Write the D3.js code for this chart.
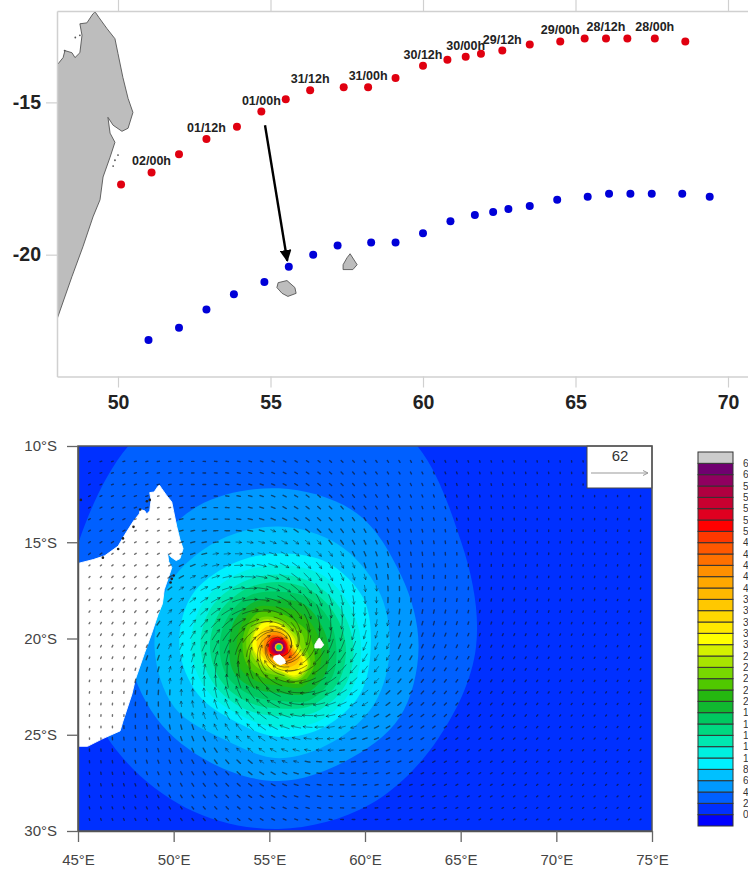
<!DOCTYPE html>
<html>
<head>
<meta charset="utf-8">
<style>
  html, body { margin: 0; padding: 0; background: #fff; }
  svg { display: block; font-family: "Liberation Sans", Arial, sans-serif; }
  .top-axis path { stroke: #d0d0d0; stroke-width: 1.5; }
  .top-axis line { stroke: #d0d0d0; stroke-width: 1.2; }
  .top-axis text { font-size: 19.5px; font-weight: bold; fill: #222; }
  .map-axis path { stroke: #555; stroke-width: 1.5; }
  .map-axis line { stroke: #666; stroke-width: 1.3; }
  .map-axis text { font-size: 15px; fill: #444; }
</style>
</head>
<body>
<div id="chart-area"></div>
<script src="https://cdn.jsdelivr.net/npm/d3@7"></script>
<script>
// Track positions (lon, lat per 6h step, newest first)
const trackALon = [50.1, 51.1, 52.0, 52.9, 53.9, 54.7, 55.5, 56.3, 57.4, 58.2, 59.1, 60.0, 60.8, 61.4, 61.9, 62.6, 63.5, 64.5, 65.3, 66.0, 66.7, 67.6, 68.6];
const trackALat = [-17.7, -17.3, -16.7, -16.2, -15.8, -15.3, -14.9, -14.6, -14.5, -14.5, -14.2, -13.8, -13.6, -13.5, -13.4, -13.3, -13.1, -13.0, -12.9, -12.9, -12.9, -12.9, -13.0];
const trackBLon = [51.0, 52.0, 52.9, 53.8, 54.8, 55.6, 56.4, 57.2, 58.3, 59.1, 60.0, 60.9, 61.7, 62.3, 62.8, 63.5, 64.4, 65.4, 66.1, 66.8, 67.5, 68.5, 69.4];
const trackBLat = [-22.8, -22.4, -21.8, -21.3, -20.9, -20.4, -20.0, -19.7, -19.6, -19.6, -19.3, -18.9, -18.7, -18.6, -18.5, -18.4, -18.2, -18.1, -18.0, -18.0, -18.0, -18.0, -18.1];
// One label every second point of track A, starting at the second point
const trackLabels = ["02/00h", "01/12h", "01/00h", "31/12h", "31/00h", "30/12h", "30/00h", "29/12h", "29/00h", "28/12h", "28/00h"];
const arrowLon = [54.82, 55.55];
const arrowLat = [-15.75, -20.2];

// Coastlines
const coastLon = [49.25, 49.38, 49.64, 49.9, 50.0, 50.16, 50.33, 50.49, 50.33, 50.13, 49.84, 49.67, 49.74, 49.9, 49.74, 49.51, 49.41, 49.18, 48.85, 48.49, 48.0, 47.82, 47.35, 47.2, 46.3, 45.5, 44, 44, 45, 45.8, 46.4, 47.1, 47.45, 47.9, 48.2, 48.26, 48.49, 48.59, 48.75, 48.82, 48.75, 48.98, 49.18];
const coastLat = [-12.03, -12.22, -12.58, -12.91, -13.4, -14.18, -14.87, -15.33, -15.85, -15.95, -15.75, -15.49, -16.01, -16.31, -16.8, -17.45, -18.2, -18.76, -19.74, -20.72, -22.12, -22.88, -24.3, -24.8, -25.2, -25.6, -25.6, -16.1, -16.1, -15.9, -15.7, -15.2, -14.6, -13.9, -13.53, -13.3, -13.37, -13.53, -13.37, -12.8, -12.42, -12.39, -12.09];
const reunionLon = [55.25, 55.54, 55.8, 55.84, 55.57, 55.38, 55.21];
const reunionLat = [-20.92, -20.85, -21.08, -21.27, -21.37, -21.27, -21.08];
const mauritiusLon = [57.61, 57.84, 57.7, 57.38, 57.38, 57.51];
const mauritiusLat = [-19.97, -20.33, -20.49, -20.49, -20.33, -20.1];
const isletLon = [46.3, 47.1, 47.35, 47.9, 48.25, 48.6, 48.75, 45.15, 50.0, 49.9, 49.84];
const isletLat = [-15.8, -15.35, -14.8, -14.2, -13.3, -12.87, -12.8, -12.8, -16.73, -16.9, -17.09];

// Colour bar: one colour per 2-unit class, bottom to top, last one is the overflow class
const barColors = ["#0000ff", "#0030ff", "#0060ff", "#0098ff", "#00c0ff", "#00f0ff", "#00f0e0", "#00e8b0", "#00d880", "#00c860", "#10b830", "#25b810", "#50c800", "#78d800", "#a8e400", "#d4f000", "#ffff00", "#ffe800", "#ffd800", "#ffc800", "#ffb800", "#ffa800", "#ff9000", "#ff7000", "#ff5800", "#ff3800", "#ff0000", "#e00020", "#c80030", "#b00040", "#900060", "#700070", "#cccccc"];
const barLabels = d3.range(0, 64, 2);

// Wind speed contours: lower level of each band and its radius (deg) from the eye,
// read every 30 degrees clockwise from north
const eyeLon = 55.5;
const eyeLat = -20.45;
const bandLevels = [4, 6, 8, 10, 12, 14, 16, 18, 20, 22, 24, 26, 28, 30, 32, 36, 40, 44, 48, 52, 56, 60];
const bandRadii = [
  [13.1, 13.0, 11.0, 10.3, 9.6, 9.5, 9.5, 9.7, 10.1, 10.9, 11.9, 13.4],
  [8.3, 8.1, 7.4, 7.3, 7.3, 6.9, 7.0, 7.0, 7.4, 7.9, 8.3, 8.5],
  [6.3, 6.2, 6.0, 5.8, 5.8, 5.7, 5.8, 5.6, 6.3, 6.5, 6.6, 6.4],
  [4.9, 5.1, 5.1, 4.8, 4.9, 4.8, 4.7, 4.5, 4.9, 5.2, 5.3, 5.0],
  [4.3, 4.4, 4.3, 4.3, 4.4, 4.4, 4.2, 4.1, 4.4, 4.6, 4.6, 4.4],
  [3.8, 3.8, 3.8, 3.9, 4.0, 3.9, 3.6, 3.7, 3.9, 4.1, 4.1, 3.9],
  [3.4, 3.4, 3.4, 3.5, 3.6, 3.5, 3.2, 3.3, 3.5, 3.6, 3.6, 3.5],
  [2.9, 3.0, 3.0, 3.0, 3.2, 3.2, 2.8, 2.9, 3.1, 3.1, 3.1, 3.1],
  [2.5, 2.6, 2.5, 2.6, 2.8, 2.8, 2.4, 2.5, 2.7, 2.6, 2.7, 2.7],
  [2.1, 2.1, 2.1, 2.2, 2.4, 2.4, 2.0, 2.1, 2.3, 2.2, 2.3, 2.4],
  [1.8, 1.6, 1.7, 1.8, 2.1, 2.2, 1.7, 1.8, 1.9, 1.9, 2.0, 2.1],
  [1.5, 1.3, 1.4, 1.4, 1.9, 2.0, 1.5, 1.5, 1.6, 1.7, 1.8, 1.8],
  [1.35, 1.1, 1.1, 1.15, 1.8, 1.9, 1.35, 1.3, 1.4, 1.5, 1.6, 1.65],
  [1.25, 1.0, 0.95, 1.0, 1.75, 1.8, 1.25, 1.2, 1.25, 1.4, 1.5, 1.55],
  [1.2, 0.9, 0.85, 0.9, 1.7, 1.7, 1.2, 1.15, 1.15, 1.35, 1.45, 1.5],
  [1.05, 0.8, 0.75, 0.8, 1.45, 1.45, 1.05, 1.0, 1.0, 1.15, 1.25, 1.25],
  [0.9, 0.7, 0.65, 0.7, 1.25, 1.2, 0.85, 0.85, 0.85, 0.95, 1.05, 1.05],
  [0.75, 0.6, 0.6, 0.6, 1.05, 1.0, 0.7, 0.7, 0.75, 0.8, 0.85, 0.85],
  [0.6, 0.55, 0.52, 0.52, 0.8, 0.75, 0.58, 0.6, 0.65, 0.65, 0.7, 0.7],
  [0.5, 0.47, 0.45, 0.45, 0.55, 0.52, 0.45, 0.5, 0.55, 0.55, 0.55, 0.55],
  [0.42, 0.4, 0.38, 0.38, 0.42, 0.42, 0.38, 0.42, 0.45, 0.45, 0.45, 0.45],
  [0.34, 0.33, 0.32, 0.32, 0.33, 0.33, 0.33, 0.35, 0.35, 0.36, 0.36, 0.35]
];
// The calm eye inside the purple ring
const eyeLevels = [40, 16];
const eyeRadii = [0.22, 0.14];

// Wind vectors: drawn speed estimated from the arrow lengths as a function of distance to the eye.
// Direction comes from the rotation around the eye, the single arrows can't be read.
const windRadius = [0.3, 0.6, 1, 1.5, 2, 2.5, 3, 3.5, 4, 5, 6, 7.5, 10.5, 15, 25];
const windSpeed = [50, 42, 30, 24, 20, 17, 15, 13, 11, 8, 5.5, 4, 2.5, 1.6, 1];
const legendSpeed = 62;

const xTopTicks = [50, 55, 60, 65, 70];
const yTopTicks = [-15, -20];
const xMapTicks = [45, 50, 55, 60, 65, 70, 75];
const yMapTicks = [-10, -15, -20, -25, -30];

// Set up SVG
const svg = d3.select("#chart-area").append("svg")
    .attr("width", 748)
    .attr("height", 870);

// ---- Upper panel ----
const xTop = d3.scaleLinear().domain([48, 71]).range([57, 758.5]);
const yTop = d3.scaleLinear().domain([-12, -24]).range([11, 376.5]);

const defs = svg.append("defs");
defs.append("clipPath").attr("id", "clip-top").append("rect")
    .attr("x", 57).attr("y", 11).attr("width", 700).attr("height", 366);
defs.append("clipPath").attr("id", "clip-map").append("rect")
    .attr("x", 78).attr("y", 446).attr("width", 574).attr("height", 385);
defs.append("marker").attr("id", "track-head")
    .attr("viewBox", "0 0 10 10").attr("refX", 9).attr("refY", 5)
    .attr("markerWidth", 5).attr("markerHeight", 5).attr("orient", "auto")
    .append("path").attr("d", "M0,0L10,5L0,10Z").attr("fill", "#000");

function zipPoints(lons, lats) {
    return lons.map((lon, i) => [lon, lats[i]]);
}

function drawShapes(group, shapes, x, y, fill, stroke) {
    const line = d3.line().x(d => x(d[0])).y(d => y(d[1]));
    shapes.forEach(shape => {
        group.append("path")
            .attr("d", line(zipPoints(shape[0], shape[1])) + "Z")
            .attr("fill", fill)
            .attr("stroke", stroke)
            .attr("stroke-width", 0.9)
            .attr("stroke-linejoin", "round");
    });
}

const mainland = [[coastLon, coastLat]];
const islands = [[reunionLon, reunionLat], [mauritiusLon, mauritiusLat]];

const topMap = svg.append("g").attr("clip-path", "url(#clip-top)");
drawShapes(topMap, mainland.concat(islands), xTop, yTop, "#bdbdbd", "#555");
topMap.selectAll(".islet")
    .data(zipPoints(isletLon, isletLat))
    .enter().append("circle")
    .attr("cx", d => xTop(d[0]))
    .attr("cy", d => yTop(d[1]))
    .attr("r", 0.9)
    .attr("fill", "#555");

// Axes of the upper panel (no right side, it runs out of the picture)
svg.append("g").attr("class", "top-axis")
    .attr("transform", "translate(0,376.5)")
    .call(d3.axisBottom(xTop).tickValues(xTopTicks).tickSize(11).tickPadding(8).tickSizeOuter(0));
svg.append("g").attr("class", "top-axis")
    .attr("transform", "translate(0,11)")
    .call(d3.axisTop(xTop).tickValues(xTopTicks).tickSize(11).tickFormat("").tickSizeOuter(0));
svg.append("g").attr("class", "top-axis")
    .attr("transform", "translate(57,0)")
    .call(d3.axisLeft(yTop).tickValues(yTopTicks).tickSize(11).tickPadding(3).tickFormat(d => String(d)).tickSizeOuter(0))
    .selectAll("text").attr("dx", -2);

// Tracks
topMap.selectAll(".track-a")
    .data(zipPoints(trackALon, trackALat))
    .enter().append("circle")
    .attr("cx", d => xTop(d[0]))
    .attr("cy", d => yTop(d[1]))
    .attr("r", 4)
    .attr("fill", "#e00010");
topMap.selectAll(".track-b")
    .data(zipPoints(trackBLon, trackBLat))
    .enter().append("circle")
    .attr("cx", d => xTop(d[0]))
    .attr("cy", d => yTop(d[1]))
    .attr("r", 4)
    .attr("fill", "#0000d8");

topMap.selectAll(".track-label")
    .data(trackLabels)
    .enter().append("text")
    .attr("x", (d, i) => xTop(trackALon[i * 2 + 1]))
    .attr("y", (d, i) => yTop(trackALat[i * 2 + 1]) - 7)
    .attr("text-anchor", "middle")
    .attr("font-size", 12.5)
    .attr("font-weight", "bold")
    .attr("fill", "#222")
    .text(d => d);

topMap.append("line")
    .attr("x1", xTop(arrowLon[0])).attr("y1", yTop(arrowLat[0]))
    .attr("x2", xTop(arrowLon[1])).attr("y2", yTop(arrowLat[1]))
    .attr("stroke", "#000")
    .attr("stroke-width", 2.4)
    .attr("marker-end", "url(#track-head)");

// ---- Lower panel ----
const xMap = d3.scaleLinear().domain([45, 75]).range([78, 652]);
const yMap = d3.scaleLinear().domain([-10, -30]).range([446, 831]);
const lengthScale = d3.scaleLinear().domain([0, 62]).range([0, 57]);
const speedScale = d3.scaleLinear().domain(windRadius).range(windSpeed).clamp(true);

function levelColor(level) {
    return barColors[level / 2];
}

const map = svg.append("g").attr("clip-path", "url(#clip-map)");
map.append("rect")
    .attr("x", 78).attr("y", 446).attr("width", 574).attr("height", 385)
    .attr("fill", levelColor(2));

const bandLine = d3.lineRadial()
    .angle((d, i) => i * Math.PI / 6)
    .radius(d => xMap(45 + d) - xMap(45))
    .curve(d3.curveCardinalClosed);

map.selectAll(".band")
    .data(bandRadii)
    .enter().append("path")
    .attr("transform", "translate(" + xMap(eyeLon) + "," + yMap(eyeLat) + ")")
    .attr("d", bandLine)
    .attr("fill", (d, i) => levelColor(bandLevels[i]));

map.selectAll(".eye")
    .data(eyeRadii)
    .enter().append("circle")
    .attr("cx", xMap(eyeLon))
    .attr("cy", yMap(eyeLat))
    .attr("r", d => xMap(45 + d) - xMap(45))
    .attr("fill", (d, i) => levelColor(eyeLevels[i]));

drawShapes(map, mainland, xMap, yMap, "#fff", "#fff");
map.selectAll(".islet")
    .data(zipPoints(isletLon, isletLat))
    .enter().append("circle")
    .attr("cx", d => xMap(d[0]))
    .attr("cy", d => yMap(d[1]))
    .attr("r", 1.3)
    .attr("fill", "#222");

// Curly wind vectors on the 0.6 degree model grid
const gridLons = d3.range(45.6, 75, 0.6);
const gridLats = d3.range(-10.8, -29.9, -0.6);
const coastPolygon = zipPoints(coastLon, coastLat);
const inflow = Math.tan(25 * Math.PI / 180);

// one step along the flow, clockwise around the eye with some inflow
function flowStep(p, step) {
    const dx = p[0] - xMap(eyeLon);
    const dy = p[1] - yMap(eyeLat);
    const r = Math.hypot(dx, dy) || 1;
    const ux = (-dy - inflow * dx) / r;
    const uy = (dx - inflow * dy) / r;
    const norm = Math.hypot(ux, uy);
    return [p[0] + step * ux / norm, p[1] + step * uy / norm];
}

function vectorPath(lon, lat) {
    const radius = Math.hypot(lon - eyeLon, lat - eyeLat);
    const onLand = d3.polygonContains(coastPolygon, [lon, lat]);
    const length = lengthScale(speedScale(radius)) * (onLand ? 0.6 : 1);
    const steps = 8;
    const step = length / steps;
    let p = [xMap(lon), yMap(lat)];
    for (let i = 0; i < steps / 2; i++) p = flowStep(p, -step);
    const path = d3.path();
    path.moveTo(p[0], p[1]);
    let prev = p;
    for (let i = 0; i < steps; i++) {
        prev = p;
        p = flowStep(p, step);
        path.lineTo(p[0], p[1]);
    }
    // small head on the longer vectors
    if (length > 5) {
        const a = Math.atan2(p[1] - prev[1], p[0] - prev[0]);
        path.moveTo(p[0] - 2.6 * Math.cos(a - 0.5), p[1] - 2.6 * Math.sin(a - 0.5));
        path.lineTo(p[0], p[1]);
        path.lineTo(p[0] - 2.6 * Math.cos(a + 0.5), p[1] - 2.6 * Math.sin(a + 0.5));
    }
    return { d: path.toString(), length: length };
}

const vectors = [];
gridLons.forEach(lon => gridLats.forEach(lat => vectors.push(vectorPath(lon, lat))));

map.selectAll(".vector")
    .data(vectors)
    .enter().append("path")
    .attr("d", d => d.d)
    .attr("fill", "none")
    .attr("stroke", "#111")
    .attr("stroke-width", d => d.length > 5 ? 0.65 : 1.4)
    .attr("stroke-opacity", d => d.length > 5 ? 0.7 : 0.6)
    .attr("stroke-linecap", "round");

// Islands sit on top of the vectors, only the eye wall is around them
drawShapes(map, islands, xMap, yMap, "#fff", "#fff");

// Reference vector box
const legendBox = svg.append("g");
legendBox.append("rect")
    .attr("x", 587).attr("y", 446).attr("width", 65).attr("height", 42)
    .attr("fill", "#fff")
    .attr("stroke", "#444")
    .attr("stroke-width", 1);
legendBox.append("text")
    .attr("x", 620).attr("y", 461)
    .attr("text-anchor", "middle")
    .attr("font-size", 15)
    .attr("fill", "#333")
    .text(legendSpeed);
legendBox.append("path")
    .attr("d", "M591,473H" + (591 + lengthScale(legendSpeed)) + "m-5,-2.5l5,2.5l-5,2.5")
    .attr("fill", "none")
    .attr("stroke", "#999")
    .attr("stroke-width", 1);

// Map frame and axes
svg.append("rect")
    .attr("x", 78).attr("y", 446).attr("width", 574).attr("height", 385)
    .attr("fill", "none")
    .attr("stroke", "#555")
    .attr("stroke-width", 1.5);
svg.append("g").attr("class", "map-axis")
    .attr("transform", "translate(0,831)")
    .call(d3.axisBottom(xMap).tickValues(xMapTicks).tickSize(11).tickPadding(12).tickFormat(d => d + "°E").tickSizeOuter(0));
svg.append("g").attr("class", "map-axis")
    .attr("transform", "translate(78,0)")
    .call(d3.axisLeft(yMap).tickValues(yMapTicks).tickSize(11).tickPadding(10).tickFormat(d => (-d) + "°S").tickSizeOuter(0));

// Colour bar, labels run out of the picture on the right like in the original
const barScale = d3.scaleBand().domain(d3.range(barColors.length)).range([826, 452]);
svg.selectAll(".bar-cell")
    .data(barColors)
    .enter().append("rect")
    .attr("x", 698)
    .attr("y", (d, i) => barScale(i))
    .attr("width", 35)
    .attr("height", barScale.bandwidth())
    .attr("fill", d => d)
    .attr("stroke", "#333")
    .attr("stroke-width", 1);
svg.selectAll(".bar-label")
    .data(barLabels)
    .enter().append("text")
    .attr("x", 743)
    .attr("y", (d, i) => barScale(i))
    .attr("dy", "0.35em")
    .attr("font-size", 10)
    .attr("fill", "#333")
    .text(d => d);
</script>
</body>
</html>
